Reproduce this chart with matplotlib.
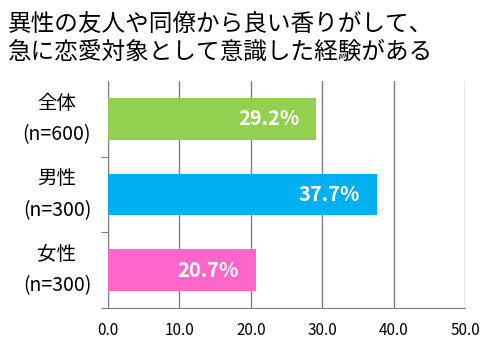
import matplotlib.pyplot as plt
import matplotlib.transforms as mtransforms

plt.rcParams['font.family'] = ['Noto Sans CJK JP', 'DejaVu Sans']

title = "異性の友人や同僚から良い香りがして、\n急に恋愛対象として意識した経験がある"
categories = ["全体\n(n=600)", "男性\n(n=300)", "女性\n(n=300)"]
values = [29.2, 37.7, 20.7]
colors = ["#92D050", "#00B0F0", "#FF66CC"]
xticks = [0, 10, 20, 30, 40, 50]

fig = plt.figure(figsize=(4.81, 3.52), dpi=100)
ax = fig.add_axes([108 / 481, 1 - 308 / 352, (465 - 108) / 481, (308 - 81) / 352])

pos = list(range(len(categories)))
ax.barh(pos, values, height=0.55, color=colors, zorder=3)
ax.set_ylim(len(categories) - 0.5, -0.5)
ax.set_xlim(0, 50)

for p, v in zip(pos, values):
    ax.text(v - 2.4, p, f"{v:.1f}%", ha="right", va="center", color="white",
            fontsize=14.5, fontweight="bold", zorder=4)

# category labels, centred left of the axis
trans = mtransforms.blended_transform_factory(fig.transFigure, ax.transData)
for p, c in zip(pos, categories):
    fig.text(57 / 481, p, c, transform=trans, ha="center", va="center",
             fontsize=14, linespacing=1.65)

ax.set_xticks(xticks)
ax.set_xticklabels([f"{t:.1f}" for t in xticks], fontsize=11)
ax.set_xticks([0], minor=True)
ax.tick_params(axis="x", which="major", length=0, pad=10)
ax.tick_params(axis="x", which="minor", length=5, color="#808080")
ax.set_yticks([0.5, 1.5, 2.5])
ax.set_yticklabels([])
ax.tick_params(axis="y", length=5, color="#808080", direction="out")

ax.grid(axis="x", color="#808080", linewidth=1, zorder=0)
for s in ["top", "right"]:
    ax.spines[s].set_visible(False)
ax.spines["left"].set_color("#808080")
ax.spines["bottom"].set_color("#808080")

fig.text(8 / 481, 1 - 13 / 352, title, ha="left", va="top", fontsize=17, linespacing=1.25)

fig.savefig("out.png", dpi=100)
